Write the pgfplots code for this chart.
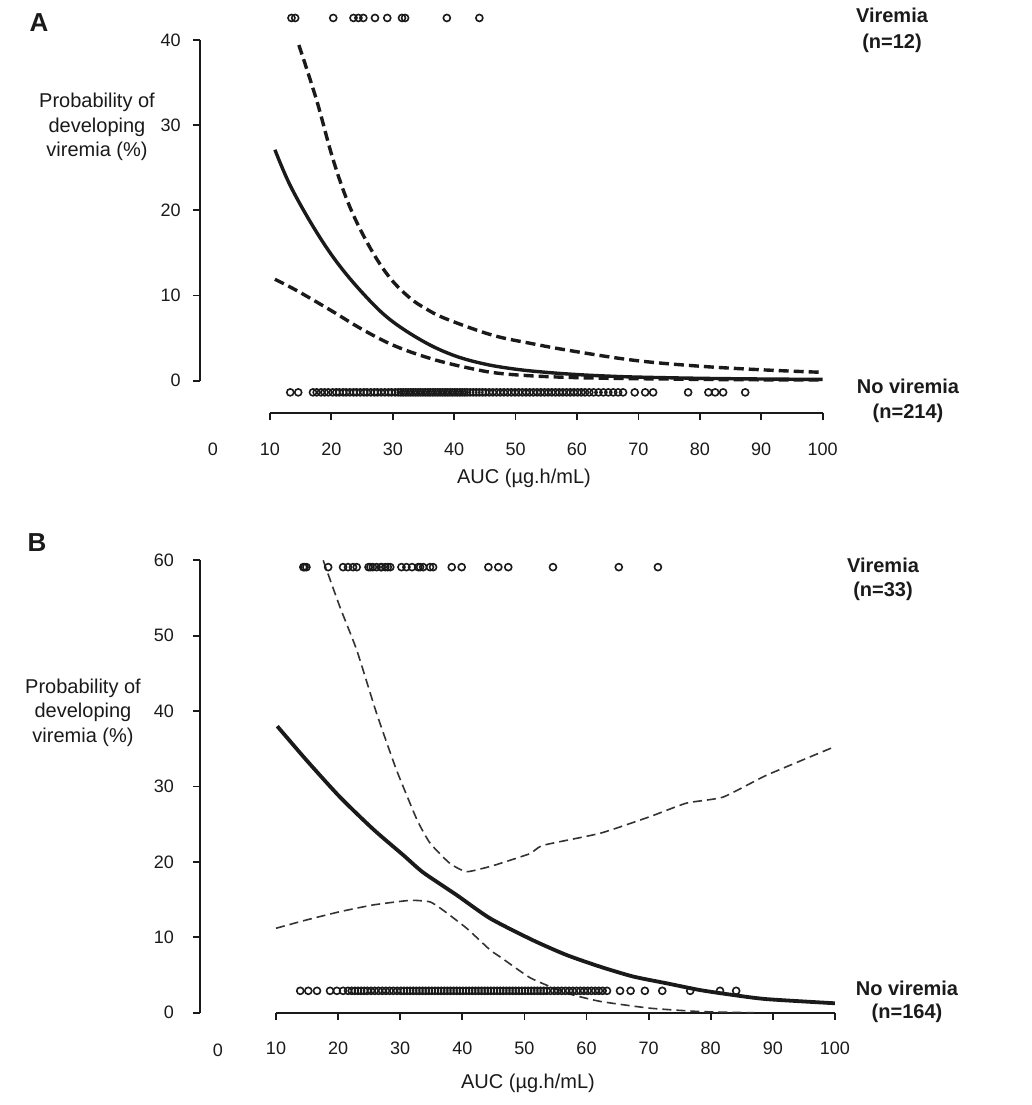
\documentclass[border=0pt]{standalone}
\usepackage{fontspec}
\setmainfont{Liberation Sans}
\usepackage{pgfplots}
\pgfplotsset{compat=1.18}
\definecolor{ink}{HTML}{1A1A1A}
\definecolor{dgray}{HTML}{333333}
\pgfplotsset{
  panel/.style={
    scale only axis, clip=false,
    axis x line*=bottom, axis y line*=left,
    axis line style={draw=none},
    tick align=outside, major tick length=3.5pt,
    tick style={ink, line width=0.9pt},
    xtick={10,20,...,100},
    /pgf/number format/assume math mode=true,
    ticklabel style={font=\fontsize{9}{10}\selectfont, text=ink},
    xticklabel style={anchor=center, yshift=-14.25pt},
  },
  dots/.style={only marks, mark=o, mark size=1.75pt, mark options={line width=0.8pt, ink}},
}
\begin{document}
\begin{tikzpicture}[x=1pt,y=1pt]
\useasboundingbox (0,0) rectangle (516,552.5);

% ---------------- Panel A ----------------
\begin{axis}[panel,
  at={(100pt,345.75pt)}, anchor=south west,
  width=311.3pt, height=199.6pt,
  xmin=-1.40, xmax=100, ymin=-3.85, ymax=43,
  ytick={0,10,...,40},
  yticklabel style={xshift=-2.65pt},
]
\draw[ink, line width=1pt] (axis cs:10,-3.85) -- (axis cs:100,-3.85);
\draw[ink, line width=1pt] (axis cs:-1.40,0) -- (axis cs:-1.40,40);
% fitted probability
\addplot[ink, line width=1.7pt, smooth, tension=0.6] coordinates {
(10.8,27.1) (13.3,22.9) (17.1,18.0) (20.9,13.9) (25.2,10.2) (29.5,7.2)
(35.0,4.6) (40.0,2.95) (45,1.95) (50,1.35) (55,0.98) (60,0.72) (65,0.54)
(70,0.42) (80,0.28) (90,0.2) (100,0.15)};
% upper CI
\addplot[ink, line width=1.7pt, dash pattern=on 5pt off 2.5pt, smooth, tension=0.6] coordinates {
(14.7,39.4) (17.6,32.9) (20.3,25.9) (23.0,20.4) (26.3,15.6) (29.5,12.1)
(32.8,9.7) (35.5,8.4) (38.2,7.4) (43.6,5.95) (47.5,5.1) (52.3,4.4) (58.3,3.6)
(69.2,2.4) (80,1.7) (90.9,1.25) (100,0.98)};
% lower CI
\addplot[ink, line width=1.7pt, dash pattern=on 5pt off 2.5pt, smooth, tension=0.6] coordinates {
(10.8,11.9) (14.3,10.6) (19.8,8.3) (25.2,5.95) (30.6,4.0) (37.1,2.4)
(43.6,1.3) (47.5,0.85) (52.3,0.58) (58,0.4) (65,0.28) (74,0.2) (85,0.12) (100,0.08)};
% viremia observations
\addplot[dots] coordinates {
(13.5,42.57) (14.1,42.57) (20.3,42.57) (23.6,42.57) (24.4,42.57) (25.2,42.57)
(27.1,42.57) (29.1,42.57) (31.5,42.57) (32.0,42.57) (38.8,42.57) (44.1,42.57)};
% no viremia observations
\addplot[dots] coordinates {
(13.3,-1.37) (14.6,-1.37)
(17.0,-1.37) (17.6,-1.37) (18.3,-1.37) (18.9,-1.37) (19.5,-1.37) (20.2,-1.37)
(20.8,-1.37) (21.3,-1.37) (21.9,-1.37) (22.4,-1.37) (23.0,-1.37) (23.6,-1.37)
(24.1,-1.37) (24.7,-1.37) (25.3,-1.37) (25.8,-1.37) (26.4,-1.37) (27.0,-1.37)
(27.5,-1.37) (28.1,-1.37) (28.7,-1.37) (29.3,-1.37) (29.8,-1.37) (30.4,-1.37)
(30.9,-1.37) (31.3,-1.37) (31.7,-1.37) (32.1,-1.37) (32.5,-1.37) (32.9,-1.37)
(33.3,-1.37) (33.7,-1.37) (34.1,-1.37) (34.5,-1.37) (34.9,-1.37) (35.3,-1.37)
(35.7,-1.37) (36.1,-1.37) (36.5,-1.37) (36.9,-1.37) (37.3,-1.37) (37.7,-1.37)
(38.1,-1.37) (38.5,-1.37) (38.9,-1.37) (39.3,-1.37) (39.7,-1.37) (40.1,-1.37)
(40.5,-1.37) (40.9,-1.37) (41.3,-1.37) (41.7,-1.37) (42.1,-1.37) (42.6,-1.37)
(43.1,-1.37) (43.6,-1.37) (44.1,-1.37) (44.6,-1.37) (45.1,-1.37) (45.7,-1.37)
(46.3,-1.37) (46.9,-1.37) (47.5,-1.37) (48.1,-1.37) (48.7,-1.37) (49.3,-1.37)
(49.9,-1.37) (50.5,-1.37) (51.1,-1.37) (51.7,-1.37) (52.3,-1.37) (52.9,-1.37)
(53.5,-1.37) (54.1,-1.37) (54.7,-1.37) (55.3,-1.37) (55.9,-1.37) (56.5,-1.37)
(57.1,-1.37) (57.7,-1.37) (58.3,-1.37) (58.9,-1.37) (59.5,-1.37) (60.1,-1.37)
(60.7,-1.37) (61.3,-1.37) (62.0,-1.37) (62.7,-1.37) (63.5,-1.37) (64.3,-1.37)
(65.1,-1.37) (65.9,-1.37) (66.7,-1.37) (67.5,-1.37)
(69.4,-1.37) (71.1,-1.37) (72.4,-1.37) (78.1,-1.37) (81.4,-1.37) (82.5,-1.37)
(83.8,-1.37) (87.4,-1.37)};
\end{axis}

% ---------------- Panel B ----------------
\begin{axis}[panel,
  at={(100pt,46.15pt)}, anchor=south west,
  width=317.45pt, height=229.95pt,
  xmin=-2.24, xmax=100, ymin=0, ymax=61,
  ytick={0,10,...,60},
  yticklabel style={xshift=-6pt},
]
\draw[ink, line width=1pt] (axis cs:10,0) -- (axis cs:100,0);
\draw[ink, line width=1pt] (axis cs:-2.24,0) -- (axis cs:-2.24,60);
% fitted probability
\addplot[ink, line width=1.9pt, smooth, tension=0.4] coordinates {
(10.2,38.0) (14.9,33.5) (20.3,28.6) (25.7,24.3) (30.5,20.9) (33.7,18.6)
(39.1,15.6) (44.5,12.5) (51.4,9.6) (56.8,7.65) (62.2,6.1) (67.5,4.8)
(72.9,3.9) (78.3,3.0) (83.6,2.35) (89,1.8) (100,1.25)};
% upper CI
\addplot[dgray, line width=0.8pt, dash pattern=on 4.5pt off 2.5pt, smooth, tension=0.3] coordinates {
(17.6,60) (20.3,53.8) (23.0,48.1) (26.2,39.7) (29.4,32.2) (32.7,25.6)
(34.8,22.5) (38.0,19.8) (40.7,18.7) (44.5,19.4) (46.1,19.8) (50.9,21.1)
(53.0,22.2) (62.2,23.8) (70.2,26.0) (76.1,27.8) (82.0,28.6) (89.0,31.5) (100,35.3)};
% lower CI
\addplot[dgray, line width=0.8pt, dash pattern=on 4.5pt off 2.5pt, smooth, tension=0.3] coordinates {
(10,11.2) (14.9,12.3) (20.3,13.4) (25.7,14.3) (31.6,14.9) (34.8,14.7)
(36.9,13.6) (40.7,11.2) (44.5,8.3) (46.1,7.4) (51,4.6) (56.8,2.6)
(62.2,1.5) (70.2,0.6) (78.3,0.15) (87,0)};
% viremia observations
\addplot[dots] coordinates {
(14.4,59.1) (14.6,59.1) (14.9,59.1) (18.4,59.1) (20.8,59.1) (21.6,59.1)
(22.4,59.1) (23.0,59.1) (24.9,59.1) (25.2,59.1) (25.6,59.1) (26.2,59.1)
(26.9,59.1) (27.0,59.1) (27.6,59.1) (28.0,59.1) (28.4,59.1) (30.2,59.1)
(31.0,59.1) (31.9,59.1) (32.9,59.1) (33.2,59.1) (33.7,59.1) (34.8,59.1)
(35.3,59.1) (38.3,59.1) (39.9,59.1) (44.2,59.1) (45.8,59.1) (47.4,59.1)
(54.6,59.1) (65.2,59.1) (71.5,59.1)};
% no viremia observations
\addplot[dots] coordinates {
(13.9,2.9) (15.2,2.9) (16.6,2.9)
(18.7,2.9) (19.8,2.9) (20.8,2.9) (21.6,2.9) (22.2,2.9) (22.7,2.9) (23.2,2.9)
(23.7,2.9) (24.2,2.9) (24.7,2.9) (25.3,2.9) (25.9,2.9) (26.5,2.9) (27.1,2.9)
(27.7,2.9) (28.3,2.9) (28.9,2.9) (29.5,2.9) (30.1,2.9) (30.6,2.9) (31.1,2.9)
(31.6,2.9) (32.1,2.9) (32.6,2.9) (33.1,2.9) (33.6,2.9) (34.1,2.9) (34.6,2.9)
(35.1,2.9) (35.6,2.9) (36.1,2.9) (36.6,2.9) (37.1,2.9) (37.6,2.9) (38.1,2.9)
(38.6,2.9) (39.1,2.9) (39.6,2.9) (40.1,2.9) (40.6,2.9) (41.1,2.9) (41.6,2.9)
(42.1,2.9) (42.6,2.9) (43.1,2.9) (43.6,2.9) (44.1,2.9) (44.6,2.9) (45.1,2.9)
(45.6,2.9) (46.1,2.9) (46.6,2.9) (47.1,2.9) (47.6,2.9) (48.1,2.9) (48.6,2.9)
(49.1,2.9) (49.6,2.9) (50.1,2.9) (50.6,2.9) (51.1,2.9) (51.6,2.9) (52.1,2.9)
(52.6,2.9) (53.1,2.9) (53.6,2.9) (54.2,2.9) (54.8,2.9) (55.4,2.9) (56.0,2.9)
(56.6,2.9) (57.2,2.9) (57.8,2.9) (58.4,2.9) (59.0,2.9) (59.6,2.9) (60.2,2.9)
(60.8,2.9) (61.4,2.9) (62.0,2.9) (62.6,2.9) (63.3,2.9)
(65.4,2.9) (67.1,2.9) (69.4,2.9) (72.2,2.9) (76.7,2.9) (81.5,2.9) (84.1,2.9)};
\end{axis}

% ---------------- Text ----------------
\begin{scope}[every node/.style={text=ink, inner sep=0pt}]
\node[font=\fontsize{13}{15}\selectfont\bfseries] at (19.5,541) {A};
\node[font=\fontsize{10}{12.25}\selectfont, align=center] at (48.5,489) {Probability of\\developing\\viremia (\%)};
\node[font=\fontsize{10}{13}\selectfont\bfseries, align=center] at (446,537.5) {Viremia\\(n=12)};
\node[font=\fontsize{10}{12.5}\selectfont\bfseries, align=center] at (454,352.25) {No viremia\\(n=214)};
\node[font=\fontsize{10}{12}\selectfont] at (262,313.5) {AUC (µg.h/mL)};
\node[font=\fontsize{9}{10}\selectfont] at (106.5,328) {0};

\node[font=\fontsize{13}{15}\selectfont\bfseries] at (18.5,281) {B};
\node[font=\fontsize{10}{12.25}\selectfont, align=center] at (41.5,196.15) {Probability of\\developing\\viremia (\%)};
\node[font=\fontsize{10}{12}\selectfont\bfseries, align=center] at (441.5,263) {Viremia\\(n=33)};
\node[font=\fontsize{10}{11.5}\selectfont\bfseries, align=center] at (453.5,51.75) {No viremia\\(n=164)};
\node[font=\fontsize{10}{12}\selectfont] at (264,11) {AUC (µg.h/mL)};
\node[font=\fontsize{9}{10}\selectfont] at (109,27.5) {0};
\end{scope}
\end{tikzpicture}
\end{document}
